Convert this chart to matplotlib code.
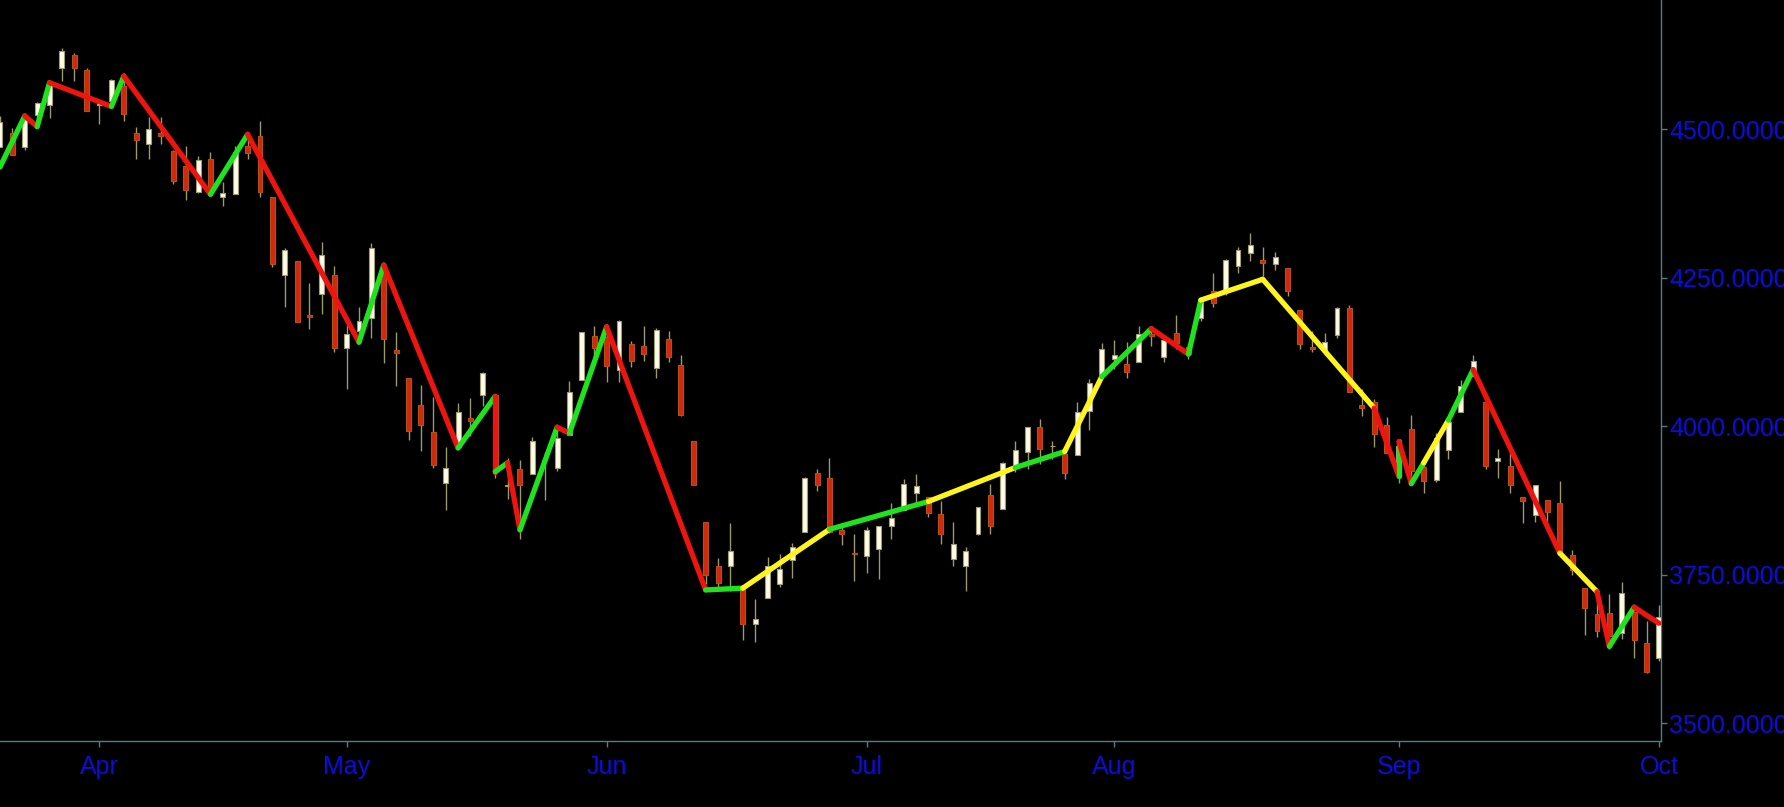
import numpy as np
import pandas as pd
import matplotlib
matplotlib.use("Agg")
import matplotlib.pyplot as plt
from matplotlib.ticker import FormatStrFormatter

# ── Daily OHLC (index values, 22 Mar – 3 Oct) ─────────────────────────────────
DATES = [
    "2022-03-22", "2022-03-23", "2022-03-24", "2022-03-25", "2022-03-28", "2022-03-29", "2022-03-30", "2022-03-31",
    "2022-04-01", "2022-04-04", "2022-04-05", "2022-04-06", "2022-04-07", "2022-04-08", "2022-04-11", "2022-04-12",
    "2022-04-13", "2022-04-14", "2022-04-18", "2022-04-19", "2022-04-20", "2022-04-21", "2022-04-22", "2022-04-25",
    "2022-04-26", "2022-04-27", "2022-04-28", "2022-04-29",
    "2022-05-02", "2022-05-03", "2022-05-04", "2022-05-05", "2022-05-06", "2022-05-09", "2022-05-10", "2022-05-11",
    "2022-05-12", "2022-05-13", "2022-05-16", "2022-05-17", "2022-05-18", "2022-05-19", "2022-05-20", "2022-05-23",
    "2022-05-24", "2022-05-25", "2022-05-26", "2022-05-27", "2022-05-31",
    "2022-06-01", "2022-06-02", "2022-06-03", "2022-06-06", "2022-06-07", "2022-06-08", "2022-06-09", "2022-06-10",
    "2022-06-13", "2022-06-14", "2022-06-15", "2022-06-16", "2022-06-17", "2022-06-21", "2022-06-22", "2022-06-23",
    "2022-06-24", "2022-06-27", "2022-06-28", "2022-06-29", "2022-06-30",
    "2022-07-01", "2022-07-05", "2022-07-06", "2022-07-07", "2022-07-08", "2022-07-11", "2022-07-12", "2022-07-13",
    "2022-07-14", "2022-07-15", "2022-07-18", "2022-07-19", "2022-07-20", "2022-07-21", "2022-07-22", "2022-07-25",
    "2022-07-26", "2022-07-27", "2022-07-28", "2022-07-29",
    "2022-08-01", "2022-08-02", "2022-08-03", "2022-08-04", "2022-08-05", "2022-08-08", "2022-08-09", "2022-08-10",
    "2022-08-11", "2022-08-12", "2022-08-15", "2022-08-16", "2022-08-17", "2022-08-18", "2022-08-19", "2022-08-22",
    "2022-08-23", "2022-08-24", "2022-08-25", "2022-08-26", "2022-08-29", "2022-08-30", "2022-08-31",
    "2022-09-01", "2022-09-02", "2022-09-06", "2022-09-07", "2022-09-08", "2022-09-09", "2022-09-12", "2022-09-13",
    "2022-09-14", "2022-09-15", "2022-09-16", "2022-09-19", "2022-09-20", "2022-09-21", "2022-09-22", "2022-09-23",
    "2022-09-26", "2022-09-27", "2022-09-28", "2022-09-29", "2022-09-30",
    "2022-10-03",
]

OPEN = [
    4469, 4493, 4470, 4523, 4541, 4603, 4624, 4599,
    4540, 4547, 4572, 4494, 4475, 4494, 4463, 4438,
    4394, 4449, 4386, 4391, 4472, 4489, 4386, 4255,
    4278, 4187, 4223, 4254,
    4131, 4160, 4181, 4270, 4128, 4081, 4035, 3990,
    3904, 3964, 4013, 4052, 4052, 3899, 3928, 3919,
    3943, 3930, 3985, 4077, 4151,
    4150, 4095, 4138, 4135, 4097, 4147, 4102, 3974,
    3838, 3764, 3764, 3728, 3666, 3710, 3734, 3775,
    3822, 3921, 3913, 3825, 3786,
    3781, 3793, 3832, 3859, 3888, 3881, 3852, 3776,
    3764, 3818, 3884, 3861, 3935, 3956, 3998, 3966,
    3953, 3951, 4026, 4087,
    4112, 4104, 4108, 4155, 4116, 4156, 4133, 4181,
    4227, 4225, 4269, 4291, 4280, 4273, 4266, 4195,
    4133, 4127, 4153, 4199, 4035, 4041, 4001,
    3937, 3995, 3931, 3909, 3960, 4023, 4084, 4041,
    3941, 3932, 3881, 3850, 3875, 3871, 3782, 3727,
    3683, 3686, 3652, 3687, 3634,
    3610,
]

HIGH = [
    4522, 4501, 4521, 4546, 4576, 4637, 4628, 4603,
    4549, 4584, 4594, 4504, 4521, 4521, 4464, 4471,
    4454, 4461, 4410, 4471, 4488, 4513, 4386, 4299,
    4278, 4241, 4309, 4270,
    4170, 4200, 4308, 4270, 4158, 4081, 4069, 4049,
    3965, 4039, 4047, 4091, 4052, 3946, 3943, 3982,
    3956, 3999, 4075, 4159, 4168,
    4167, 4178, 4143, 4169, 4165, 4160, 4119, 3974,
    3838, 3778, 3837, 3728, 3708, 3780, 3785, 3803,
    3914, 3928, 3946, 3837, 3819,
    3830, 3832, 3871, 3911, 3919, 3881, 3873, 3839,
    3796, 3864, 3902, 3940, 3974, 3999, 4012, 3975,
    3953, 4040, 4079, 4140,
    4145, 4141, 4168, 4161, 4152, 4187, 4138, 4211,
    4258, 4281, 4302, 4325, 4302, 4293, 4266, 4195,
    4160, 4157, 4201, 4203, 4063, 4045, 4015,
    3970, 4018, 3943, 3988, 4011, 4077, 4119, 4041,
    3962, 3959, 3881, 3900, 3876, 3907, 3791, 3727,
    3716, 3718, 3737, 3687, 3671,
    3698,
]

LOW = [
    4469, 4456, 4465, 4501, 4518, 4581, 4581, 4530,
    4508, 4539, 4514, 4450, 4450, 4475, 4408, 4381,
    4393, 4391, 4370, 4391, 4449, 4385, 4268, 4201,
    4175, 4163, 4189, 4124,
    4063, 4147, 4149, 4106, 4068, 3976, 3958, 3929,
    3859, 3964, 3984, 4034, 3912, 3877, 3810, 3919,
    3875, 3925, 3985, 4077, 4105,
    4074, 4074, 4099, 4109, 4080, 4107, 4017, 3900,
    3734, 3725, 3722, 3640, 3637, 3710, 3729, 3744,
    3822, 3890, 3820, 3799, 3739,
    3752, 3742, 3809, 3859, 3869, 3847, 3802, 3765,
    3722, 3817, 3819, 3861, 3922, 3928, 3936, 3944,
    3911, 3951, 3993, 4079,
    4096, 4080, 4108, 4135, 4107, 4129, 4112, 4177,
    4201, 4220, 4257, 4278, 4253, 4262, 4219, 4130,
    4124, 4120, 4148, 4058, 4017, 3965, 3955,
    3904, 3906, 3887, 3906, 3945, 4023, 4084, 3928,
    3913, 3888, 3837, 3839, 3828, 3790, 3749, 3648,
    3645, 3624, 3641, 3610, 3584,
    3605,
]

CLOSE = [
    4512, 4456, 4520, 4543, 4576, 4632, 4603, 4530,
    4546, 4583, 4525, 4481, 4500, 4488, 4413, 4398,
    4447, 4393, 4392, 4462, 4460, 4394, 4272, 4296,
    4175, 4184, 4288, 4132,
    4155, 4176, 4300, 4147, 4123, 3991, 4001, 3935,
    3930, 4024, 4008, 4089, 3924, 3901, 3901, 3974,
    3942, 3979, 4058, 4158, 4132,
    4101, 4177, 4109, 4121, 4161, 4116, 4018, 3901,
    3750, 3736, 3790, 3667, 3675, 3765, 3760, 3796,
    3912, 3900, 3822, 3819, 3785,
    3825, 3831, 3845, 3903, 3899, 3854, 3819, 3802,
    3790, 3863, 3831, 3937, 3960, 3999, 3962, 3967,
    3921, 4024, 4072, 4130,
    4119, 4091, 4155, 4152, 4145, 4140, 4122, 4210,
    4207, 4280, 4297, 4305, 4274, 4284, 4228, 4138,
    4129, 4141, 4199, 4058, 4031, 3986, 3955,
    3967, 3924, 3908, 3980, 4006, 4067, 4110, 3933,
    3946, 3901, 3873, 3900, 3856, 3790, 3758, 3693,
    3655, 3647, 3719, 3640, 3586,
    3678,
]

# ── Zig-zag overlay: vertices and the colour of each leg ──────────────────────
ZZ_DATES = [
    "2022-03-22", "2022-03-24", "2022-03-25", "2022-03-28", "2022-04-04", "2022-04-05", "2022-04-14", "2022-04-20",
    "2022-05-03", "2022-05-05", "2022-05-13", "2022-05-18", "2022-05-18", "2022-05-19", "2022-05-20", "2022-05-25",
    "2022-05-26", "2022-06-01", "2022-06-13", "2022-06-16", "2022-06-28", "2022-07-11", "2022-07-20", "2022-07-26",
    "2022-07-29", "2022-08-04", "2022-08-09", "2022-08-10", "2022-08-17", "2022-08-30", "2022-09-01", "2022-09-01",
    "2022-09-02", "2022-09-06", "2022-09-08", "2022-09-12", "2022-09-21", "2022-09-26", "2022-09-27", "2022-09-29",
    "2022-10-03",
]
ZZ_PRICE = [
    4436, 4522, 4504, 4578, 4538, 4589, 4390, 4491,
    4141, 4271, 3963, 4050, 3923, 3938, 3825, 3998,
    3988, 4167, 3724, 3727, 3826, 3873, 3930, 3957,
    4083, 4164, 4121, 4212, 4247, 4030, 3915, 3974,
    3903, 3938, 4010, 4095, 3786, 3721, 3629, 3695,
    3668,
]
ZZ_LEG = "GRGRGRGRGRGRGRGRGRGYGYGYGRGYYRGRGYGRYRGR"

MONTHS = ["Apr", "May", "Jun", "Jul", "Aug", "Sep", "Oct"]
Y_TICKS = [3500, 3750, 4000, 4250, 4500]

# ── Style ─────────────────────────────────────────────────────────────────────
BG        = "black"
AXIS_COL  = "#4f7f84"
LABEL_COL = "#0c0cdc"
UP_FACE   = "#fffbe4"
UP_EDGE   = "#a09c78"
DN_FACE   = "#d2280c"
DN_EDGE   = "#b4501a"
WICK_COL  = "#9c9870"
LEG_COLS  = {"G": "#1ee31e", "R": "#ee1410", "Y": "#fff51a"}

dates = pd.to_datetime(DATES)
o, h, l, c = (np.array(v, dtype=float) for v in (OPEN, HIGH, LOW, CLOSE))
base = dates.get_loc(pd.Timestamp("2022-04-01"))
x = np.arange(len(dates)) - base          # bar index, 0 = 1 Apr
up = c >= o

fig = plt.figure(figsize=(17.84, 8.07), dpi=100)
fig.patch.set_facecolor(BG)
ax = fig.add_axes([0.0, 66 / 807, 1661 / 1784, 741 / 807])
ax.set_facecolor(BG)

# wicks
ax.vlines(x, l, h, color=WICK_COL, lw=1.0, zorder=2)
# bodies
bw = 0.40
bot = np.minimum(o, c)
hgt = np.maximum(np.abs(c - o), 0.8)
ax.bar(x[up], hgt[up], bottom=bot[up], width=bw, color=UP_FACE,
       edgecolor=UP_EDGE, lw=0.8, zorder=3)
ax.bar(x[~up], hgt[~up], bottom=bot[~up], width=bw, color=DN_FACE,
       edgecolor=DN_EDGE, lw=0.8, zorder=3)

# zig-zag legs
zx = np.array([dates.get_loc(pd.Timestamp(d)) - base for d in ZZ_DATES], dtype=float)
zy = np.array(ZZ_PRICE, dtype=float)
for i, leg in enumerate(ZZ_LEG):
    ax.plot(zx[i:i + 2], zy[i:i + 2], color=LEG_COLS[leg], lw=3.8,
            solid_capstyle="round", zorder=4)

# ── Axes ──────────────────────────────────────────────────────────────────────
ax.set_xlim(-8.0, 126.17)
ax.set_ylim(3469.7, 4717.2)

month_idx = [x[np.argmax((dates.month == m) & (dates.year == 2022))] for m in range(4, 11)]
ax.set_xticks(month_idx)
ax.set_xticklabels(MONTHS)
ax.yaxis.tick_right()
ax.set_yticks(Y_TICKS)
ax.yaxis.set_major_formatter(FormatStrFormatter("%.4f"))

for side in ("left", "top"):
    ax.spines[side].set_visible(False)
for side in ("right", "bottom"):
    ax.spines[side].set_color(AXIS_COL)
    ax.spines[side].set_linewidth(1.0)

ax.tick_params(axis="both", colors=AXIS_COL, labelcolor=LABEL_COL,
               length=4, width=1.0, labelsize=18)
ax.tick_params(axis="x", pad=6)
ax.tick_params(axis="y", pad=2)
for lbl in ax.get_xticklabels() + ax.get_yticklabels():
    lbl.set_fontfamily("Liberation Sans")

fig.savefig("out.png", dpi=100, facecolor=BG)
